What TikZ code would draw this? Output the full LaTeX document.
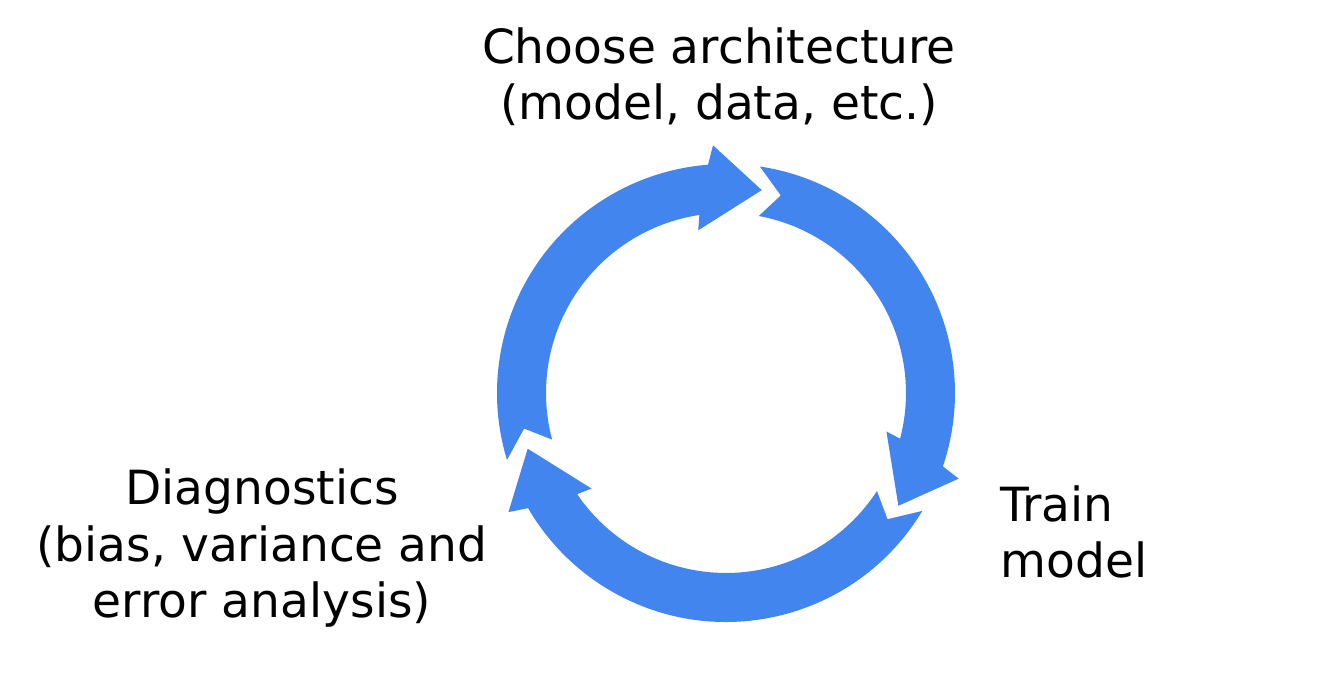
\documentclass[tikz,border=0pt]{standalone}
\usepackage{fontspec}
\setmainfont{DejaVu Sans}
\usetikzlibrary{calc}
\definecolor{ringblue}{RGB}{66,133,238}
\tikzstyle{ringarrow}=[fill=ringblue, draw=none]
\tikzstyle{stage}=[text=black, inner sep=0pt,
		font=\fontsize{13.4}{16.1}\selectfont]
% #1 tail angle, #2 angle of the outer barb of the head
\newcommand{\stagearrow}[2]{%
  \fill[ringarrow] (#1:2.29) arc[start angle=#1, end angle=#2+1.5, radius=2.29]
    -- (#2:2.48) -- (#2-13:2.06) -- (#2+6.7:1.65) -- (#2+5.5:1.80)
    arc[start angle=#2+5.5, end angle=#1-2, radius=1.80]
    -- (#1-7:2.05) -- cycle;}

\begin{document}
\begin{tikzpicture}

    \useasboundingbox (0,0) rectangle (13.44,6.82);
    \fill[white] (0,0) rectangle (13.44,6.82);

    \coordinate (Centre) at (7.26,2.89);

    \begin{scope}[shift={(Centre)}]
      \stagearrow{197}{93}
      \stagearrow{81.5}{-20.2}
      \stagearrow{-31}{-151.3}
    \end{scope}

    % base anchor sits on the last line
    \node (Arch) [stage, align=center, anchor=base] at (7.19,5.62)
      {Choose architecture\\(model, data, etc.)};

    \node (Train) [stage, align=left, anchor=base west] at (10.00,1.04)
      {Train\\model};

    \node (Diag) [stage, align=center, anchor=base] at (2.62,0.64)
      {Diagnostics\\(bias, variance and\\error analysis)};

\end{tikzpicture}
\end{document}
